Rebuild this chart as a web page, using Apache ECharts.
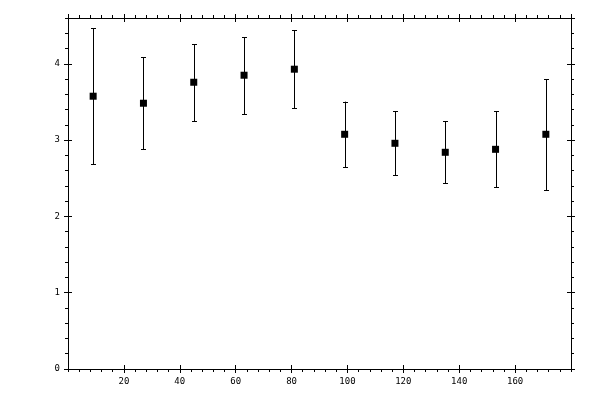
<!DOCTYPE html>
<html>
<head>
<meta charset="utf-8">
<script src="https://cdn.jsdelivr.net/npm/echarts@6/dist/echarts.min.js"></script>
<style>html,body{margin:0;padding:0;background:#fff;}#c{width:600px;height:400px;}</style>
</head>
<body>
<div id="c"></div>
<script>
var xValues = [9, 27, 45, 63, 81, 99, 117, 135, 153, 171];
var yValues = [3.575, 3.483, 3.758, 3.850, 3.929, 3.076, 2.958, 2.840, 2.879, 3.076];
var yUpper  = [4.467, 4.087, 4.257, 4.349, 4.441, 3.504, 3.378, 3.247, 3.378, 3.798];
var yLower  = [2.682, 2.879, 3.247, 3.339, 3.417, 2.643, 2.538, 2.433, 2.381, 2.341];
var xTicks = [20, 40, 60, 80, 100, 120, 140, 160];
var yTicks = [0, 1, 2, 3, 4];

var chart = echarts.init(document.getElementById('c'), null, {renderer: 'canvas'});
var font = {fontFamily: 'DejaVu Sans Mono', fontSize: 9, color: '#000'};
var lineStyle = {color: '#000', width: 1};

function xAx(pos, interval, inside, len, showLabel, showLine) {
  return {
    type: 'value', position: pos, min: 0, max: 180, interval: interval,
    axisLine: {show: showLine, onZero: false, lineStyle: lineStyle},
    axisTick: {show: true, inside: inside, length: len, lineStyle: lineStyle},
    axisLabel: showLabel ? Object.assign({show: true, margin: 8, showMinLabel: false, showMaxLabel: false,
      formatter: function (v) { return xTicks.indexOf(v) >= 0 ? String(v) : ''; }}, font) : {show: false},
    splitLine: {show: false}
  };
}
function yAx(pos, interval, inside, len, showLabel, showLine) {
  return {
    type: 'value', position: pos, min: 0, max: 4.6, interval: interval,
    axisLine: {show: showLine, onZero: false, lineStyle: lineStyle},
    axisTick: {show: true, inside: inside, length: len, lineStyle: lineStyle},
    axisLabel: showLabel ? Object.assign({show: true, margin: 8, showMaxLabel: false,
      formatter: function (v) { return yTicks.indexOf(v) >= 0 ? String(v) : ''; }}, font) : {show: false},
    splitLine: {show: false}
  };
}

var errData = xValues.map(function (x, i) { return [x, yLower[i], yUpper[i]]; });
var ptData = xValues.map(function (x, i) { return [x, yValues[i]]; });

chart.setOption({
  animation: false,
  backgroundColor: '#fff',
  grid: {left: 68, right: 29, top: 18, bottom: 31, containLabel: false},
  xAxis: [
    xAx('bottom', 20, false, 4, true, true),
    xAx('bottom', 20, true, 4, false, false),
    xAx('bottom', 4, false, 3, false, false),
    xAx('top', 20, false, 4, false, true),
    xAx('top', 20, true, 4, false, false),
    xAx('top', 4, false, 3, false, false)
  ],
  yAxis: [
    yAx('left', 1, false, 4, true, true),
    yAx('left', 1, true, 4, false, false),
    yAx('left', 0.2, false, 3, false, false),
    yAx('right', 1, false, 4, false, true),
    yAx('right', 1, true, 4, false, false),
    yAx('right', 0.2, false, 3, false, false)
  ],
  series: [
    {
      type: 'custom', xAxisIndex: 0, yAxisIndex: 0,
      data: errData,
      renderItem: function (params, api) {
        var x = api.value(0);
        var lo = api.coord([x, api.value(1)]);
        var hi = api.coord([x, api.value(2)]);
        var cx = Math.round(lo[0]) + 0.5;
        var w = 2.5;
        var st = {stroke: '#000', lineWidth: 1, fill: null};
        return {
          type: 'group',
          children: [
            {type: 'line', shape: {x1: cx, y1: hi[1], x2: cx, y2: lo[1]}, style: st},
            {type: 'line', shape: {x1: cx - w, y1: Math.round(hi[1]) + 0.5, x2: cx + w, y2: Math.round(hi[1]) + 0.5}, style: st},
            {type: 'line', shape: {x1: cx - w, y1: Math.round(lo[1]) + 0.5, x2: cx + w, y2: Math.round(lo[1]) + 0.5}, style: st}
          ]
        };
      },
      z: 2
    },
    {
      type: 'scatter', xAxisIndex: 0, yAxisIndex: 0,
      data: ptData, symbol: 'rect', symbolSize: 7,
      itemStyle: {color: '#000', opacity: 1}, z: 3
    }
  ]
});
</script>
</body>
</html>
